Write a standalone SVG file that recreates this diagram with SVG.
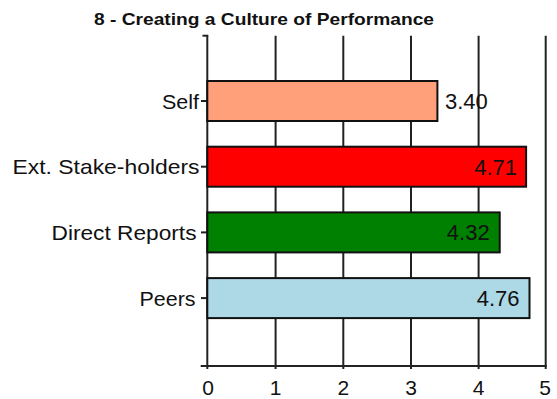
<svg xmlns="http://www.w3.org/2000/svg" width="557" height="399" viewBox="0 0 557 399">
<style>
.t{font-family:"Liberation Sans",Arial,sans-serif;fill:#111}
.title{font-size:16.5px;font-weight:bold}
.lab{font-size:21px;text-anchor:end}
.val{font-size:22px}
.tick{font-size:21px;text-anchor:middle}
.grid{stroke:#222;stroke-width:2;fill:none}
.bar{stroke:#111;stroke-width:2}
</style>
<rect width="557" height="399" fill="#fff"/>
<text class="t title" x="94" y="25" textLength="340" lengthAdjust="spacingAndGlyphs">8 - Creating a Culture of Performance</text>
<g id="grid">
<line class="grid" x1="275.6" y1="35.7" x2="275.6" y2="369"/>
<line class="grid" x1="343.3" y1="35.7" x2="343.3" y2="369"/>
<line class="grid" x1="411" y1="35.7" x2="411" y2="369"/>
<line class="grid" x1="478.6" y1="35.7" x2="478.6" y2="369"/>
<line class="grid" x1="545.7" y1="35.7" x2="545.7" y2="369"/>
</g>
<g id="axes">
<line class="grid" x1="207.3" y1="35.7" x2="207.3" y2="369"/>
<line class="grid" x1="202.5" y1="35.7" x2="208.3" y2="35.7"/>
<line class="grid" x1="200.7" y1="366" x2="546.7" y2="366"/>
<line class="grid" x1="201" y1="101" x2="207.3" y2="101"/>
<line class="grid" x1="201" y1="166.7" x2="207.3" y2="166.7"/>
<line class="grid" x1="201" y1="232.4" x2="207.3" y2="232.4"/>
<line class="grid" x1="201" y1="298.1" x2="207.3" y2="298.1"/>
</g>
<g id="bar-self">
<rect class="bar" x="207.3" y="81" width="230.1" height="40" fill="#FFA07A"/>
<text class="t lab" x="199" y="108.5" textLength="37" lengthAdjust="spacingAndGlyphs">Self</text>
<text class="t val" x="445" y="109">3.40</text>
</g>
<g id="bar-ext">
<rect class="bar" x="207.3" y="146.7" width="318.8" height="40" fill="#FF0000"/>
<text class="t lab" x="199.5" y="174.2" textLength="187" lengthAdjust="spacingAndGlyphs">Ext. Stake-holders</text>
<text class="t val" x="517" y="174.7" text-anchor="end">4.71</text>
</g>
<g id="bar-direct">
<rect class="bar" x="207.3" y="212.4" width="292.4" height="40" fill="#008000"/>
<text class="t lab" x="196.5" y="239.9" textLength="145" lengthAdjust="spacingAndGlyphs">Direct Reports</text>
<text class="t val" x="489.7" y="240.4" text-anchor="end">4.32</text>
</g>
<g id="bar-peers">
<rect class="bar" x="207.3" y="278.1" width="322.2" height="40" fill="#ADD8E6"/>
<text class="t lab" x="195.5" y="305.6" textLength="56" lengthAdjust="spacingAndGlyphs">Peers</text>
<text class="t val" x="519.5" y="306.1" text-anchor="end">4.76</text>
</g>
<g id="ticks">
<text class="t tick" x="208" y="395">0</text>
<text class="t tick" x="275.6" y="395">1</text>
<text class="t tick" x="343.3" y="395">2</text>
<text class="t tick" x="411" y="395">3</text>
<text class="t tick" x="478.6" y="395">4</text>
<text class="t tick" x="545.2" y="395">5</text>
</g>
</svg>
